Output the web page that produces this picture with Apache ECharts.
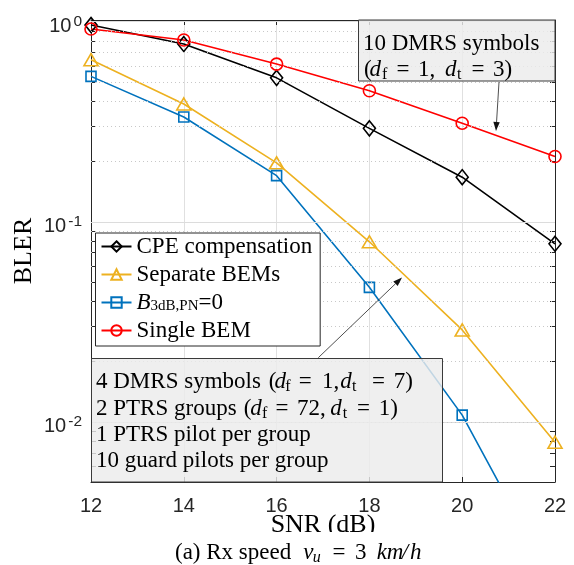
<!DOCTYPE html>
<html><head><meta charset="utf-8">
<script src="https://cdn.jsdelivr.net/npm/echarts@6/dist/echarts.min.js"></script>
<style>html,body{margin:0;padding:0;background:#fff}#c{width:574px;height:565px}</style>
</head><body><div id="c"></div>
<script>
// ---- data ----
const snr = [12, 14, 16, 18, 20, 22];
const cpeCompensation = [0.963, 0.773, 0.524, 0.293, 0.167, 0.0776];
const separateBEMs = [0.646, 0.388, 0.197, 0.0794, 0.0288, 0.0079];
const b3dbZero = [0.533, 0.334, 0.170, 0.047, 0.0108, 0.0015];
const singleBEM = [0.919, 0.81, 0.614, 0.452, 0.311, 0.212];
const seriesNames = ['CPE compensation', 'Separate BEMs', 'B3dB,PN=0', 'Single BEM'];
const xTicks = [12, 14, 16, 18, 20, 22];
const yMajor = [0.01, 0.1, 1];
const yMinor = [0.006, 0.007, 0.008, 0.009, 0.02, 0.03, 0.04, 0.05, 0.06, 0.07, 0.08, 0.09,
                0.2, 0.3, 0.4, 0.5, 0.6, 0.7, 0.8, 0.9];
const yMin = 0.005, yMax = 1.02;

const SERIF = '"Liberation Serif","Times New Roman",serif';
const SANS = '"Liberation Sans",Arial,Helvetica,sans-serif';
const AX = '#262626';

const chart = echarts.init(document.getElementById('c'), null, {renderer: 'canvas'});

function mk(name, data, color, symbol, size) {
  return {
    name, type: 'line', data: snr.map((x, i) => [x, data[i]]),
    symbol, symbolSize: size, showSymbol: true, clip: true, z: 3,
    lineStyle: {color, width: 1.6},
    itemStyle: {color: 'rgba(255,255,255,0)', borderColor: color, borderWidth: 1.6},
    emphasis: {disabled: true}, animation: false
  };
}

const gridSeries = {
  type: 'line', data: [], z: 1, silent: true, animation: false,
  markLine: {
    silent: true, symbol: ['none', 'none'], animation: false, label: {show: false},
    data: yMajor.map(v => ({yAxis: v, lineStyle: {color: '#dcdcdc', width: 1, type: 'solid'}}))
      .concat(yMinor.map(v => ({yAxis: v, lineStyle: {color: '#c8c8c8', width: 1, type: [1, 3]}})))
  }
};

const tickVals = yMajor.concat(yMinor);

function arrow(x1, y1, x2, y2) {
  const a = Math.atan2(y2 - y1, x2 - x1), L = 9, W = 3.2;
  const bx = x2 - L * Math.cos(a), by = y2 - L * Math.sin(a);
  const px = -Math.sin(a) * W, py = Math.cos(a) * W;
  return [
    {type: 'line', z: 110, shape: {x1, y1, x2: bx, y2: by}, style: {stroke: '#222', lineWidth: 0.8}},
    {type: 'polygon', z: 110, shape: {points: [[x2, y2], [bx + px, by + py], [bx - px, by - py]]}, style: {fill: '#111'}}
  ];
}

const KINDS = {
  n: {size: 23, fs: 'normal', dy: 0},
  i: {size: 23, fs: 'italic', dy: 0},
  s: {size: 16, fs: 'normal', dy: 5},
  si: {size: 16, fs: 'italic', dy: 5}
};
function piece(x, y, text, kind, z) {
  const k = KINDS[kind || 'n'];
  return {type: 'text', z: z || 120, x: 0, y: 0,
    style: {x, y: y + k.dy, text, fontFamily: SERIF, fontSize: k.size, fontStyle: k.fs,
            fill: '#000', verticalAlign: 'middle', align: 'left'}};
}
function line(y, arr, z) { return arr.map(p => piece(p[0], y, p[1], p[2], z)); }

const graphics = [
  // top annotation box
  {type: 'rect', z: 100, shape: {x: 358.5, y: 20, width: 196.5, height: 61},
   style: {fill: 'rgba(236,236,236,0.82)', stroke: '#3a3a3a', lineWidth: 1}},
  piece(363, 44, '10 DMRS symbols'),
  ...line(70, [[364, '('], [369.5, 'd', 'i'], [382, 'f', 's'], [396.5, '='], [418, '1,'],
               [445, 'd', 'i'], [457, 't', 's'], [471.5, '='], [493, '3)']]),
  ...arrow(499, 82, 496, 131),
  // bottom annotation box
  {type: 'rect', z: 100, shape: {x: 91.5, y: 358.5, width: 351, height: 123.5},
   style: {fill: 'rgba(236,236,236,0.82)', stroke: '#3a3a3a', lineWidth: 1}},
  ...line(382, [[96, '4 DMRS symbols'], [268.7, '('], [274.5, 'd', 'i'], [285.3, 'f', 's'], [298.8, '='],
                [322, '1,'], [340.3, 'd', 'i'], [352, 't', 's'], [372.1, '='], [393.7, '7)']]),
  ...line(408.5, [[96, '2 PTRS groups'], [243.7, '('], [250.3, 'd', 'i'], [262, 'f', 's'], [275.5, '='],
                  [297, '72,'], [330.3, 'd', 'i'], [342.7, 't', 's'], [357.1, '='], [378.7, '1)']]),
  piece(96, 435, '1 PTRS pilot per group'),
  piece(96, 461, '10 guard pilots per group'),
  ...arrow(318.3, 357.7, 402, 277.5),
  // caption area (covers lower part of axis title as in the reference)
  {type: 'rect', z: 130, shape: {x: 0, y: 532, width: 574, height: 33}, style: {fill: '#fff'}},
  ...line(552.5, [[175, '(a) Rx speed'], [303.3, 'v', 'i'], [312.7, 'u', 'si'], [332.5, '='], [355, '3'],
                  [376.7, 'k', 'i'], [386.7, 'm', 'i'], [401.7, '/', 'i'], [410, 'h', 'i']], 140)
];

const yLabelFmt = v => {
  const e = Math.log10(v), r = Math.round(e);
  if (Math.abs(e - r) > 1e-6) return '';
  return '{b|10}{s|' + r + '}';
};

chart.setOption({
  animation: false,
  backgroundColor: '#fff',
  grid: {left: 91, right: 19, top: 20, bottom: 83, containLabel: false},
  xAxis: [{
    type: 'value', min: 12, max: 22, interval: 2, position: 'bottom',
    name: 'SNR (dB)', nameLocation: 'middle', nameGap: 30, nameMoveOverlap: false,
    nameTextStyle: {fontFamily: SERIF, fontSize: 26, color: '#000'},
    axisLine: {show: true, lineStyle: {color: AX, width: 1}},
    axisTick: {show: true, inside: true, length: 5, lineStyle: {color: AX}},
    axisLabel: {fontFamily: SANS, fontSize: 20, color: AX, margin: 14, lineHeight: 20,
                formatter: v => xTicks.indexOf(v) >= 0 ? String(v) : ''},
    splitLine: {show: true, lineStyle: {color: '#e0e0e0', width: 1}}
  }, {
    type: 'value', min: 12, max: 22, interval: 2, position: 'top',
    axisLine: {show: true, lineStyle: {color: AX, width: 1}},
    axisTick: {show: true, inside: true, length: 5, lineStyle: {color: AX}},
    axisLabel: {show: false}, splitLine: {show: false}
  }],
  yAxis: [{
    type: 'log', logBase: 10, min: yMin, max: yMax, position: 'left',
    name: 'BLER', nameLocation: 'middle', nameGap: 54, nameRotate: 90, nameMoveOverlap: false,
    nameTextStyle: {fontFamily: SERIF, fontSize: 26, color: '#000'},
    axisLine: {show: true, lineStyle: {color: AX, width: 1}},
    axisTick: {show: true, inside: true, length: 5, lineStyle: {color: AX}, customValues: tickVals},
    axisLabel: {margin: 9, color: AX, padding: [10, 0, 0, 0], formatter: yLabelFmt,
      rich: {
        b: {fontFamily: SANS, fontSize: 20, color: AX, lineHeight: 26},
        s: {fontFamily: SANS, fontSize: 15.5, color: AX, lineHeight: 8, verticalAlign: 'top', padding: [0, 0, 0, 2]}
      }},
    splitLine: {show: false}
  }, {
    type: 'log', logBase: 10, min: yMin, max: yMax, position: 'right',
    axisLine: {show: true, lineStyle: {color: AX, width: 1}},
    axisTick: {show: true, inside: true, length: 5, lineStyle: {color: AX}, customValues: tickVals},
    axisLabel: {show: false}, splitLine: {show: false}
  }],
  legend: {
    show: true, orient: 'vertical', left: 95.5, top: 233,
    data: seriesNames, itemWidth: 30, itemHeight: 13, itemGap: 5,
    padding: [2, 8, 4, 5], backgroundColor: '#fff', borderColor: AX, borderWidth: 1,
    borderRadius: 0, selectedMode: false, z: 50,
    formatter: n => n === 'B3dB,PN=0' ? '{it|B}{sub|3dB,PN}=0' : n,
    textStyle: {fontFamily: SERIF, fontSize: 23, color: '#000', lineHeight: 22,
      rich: {
        it: {fontFamily: SERIF, fontSize: 23, fontStyle: 'italic', color: '#000', lineHeight: 22},
        sub: {fontFamily: SERIF, fontSize: 15, color: '#000', lineHeight: 8, verticalAlign: 'bottom'}
      }}
  },
  series: [
    gridSeries,
    mk(seriesNames[0], cpeCompensation, '#000000', 'diamond', [12, 15]),
    mk(seriesNames[1], separateBEMs, '#EDB120', 'triangle', [14, 12]),
    mk(seriesNames[2], b3dbZero, '#0072BD', 'rect', [10, 10]),
    mk(seriesNames[3], singleBEM, '#FF0000', 'circle', 12)
  ],
  graphic: graphics
});
</script>
</body></html>
